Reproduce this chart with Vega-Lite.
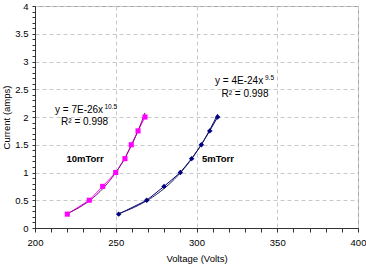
{
  "$schema": "https://vega.github.io/schema/vega-lite/v6.json",
  "width": 323,
  "height": 222,
  "autosize": {"type": "none"},
  "padding": {"left": 35, "top": 6, "right": 8, "bottom": 39},
  "background": "white",
  "config": {
    "font": "Liberation Sans",
    "view": {"stroke": "#a0a0a0", "strokeWidth": 1},
    "axis": {"labelFont": "Liberation Sans", "titleFont": "Liberation Sans", "labelFontSize": 9.5, "titleFontSize": 9.5, "titleFontWeight": "normal", "labelColor": "#000", "titleColor": "#000", "domainColor": "#333", "tickColor": "#333", "gridColor": "#c8c8c8", "gridDash": [4, 3], "labelOverlap": false, "labelFlush": false}
  },
  "datasets": {
    "pts": [
      {"series": "10mTorr", "V": 220, "I": 0.25},
      {"series": "10mTorr", "V": 233.6, "I": 0.5},
      {"series": "10mTorr", "V": 241.9, "I": 0.75},
      {"series": "10mTorr", "V": 250, "I": 1.0},
      {"series": "10mTorr", "V": 255.7, "I": 1.25},
      {"series": "10mTorr", "V": 259.6, "I": 1.5},
      {"series": "10mTorr", "V": 263.8, "I": 1.75},
      {"series": "10mTorr", "V": 268.1, "I": 2.0},
      {"series": "5mTorr", "V": 251.8, "I": 0.25},
      {"series": "5mTorr", "V": 269.2, "I": 0.5},
      {"series": "5mTorr", "V": 279.9, "I": 0.75},
      {"series": "5mTorr", "V": 290, "I": 1.0},
      {"series": "5mTorr", "V": 297, "I": 1.25},
      {"series": "5mTorr", "V": 303, "I": 1.5},
      {"series": "5mTorr", "V": 308.2, "I": 1.75},
      {"series": "5mTorr", "V": 313.1, "I": 2.0}
    ],
    "notes": [
      {"t": "y = 7E-26x", "V": 212.4, "I": 2.12, "kind": "main", "align": "left"},
      {"t": "10.5", "V": 243.0, "I": 2.18, "kind": "sup", "align": "left"},
      {"t": "R² = 0.998", "V": 230.7, "I": 1.91, "kind": "main", "align": "center"},
      {"t": "y = 4E-24x", "V": 311.5, "I": 2.64, "kind": "main", "align": "left"},
      {"t": "9.5", "V": 342.4, "I": 2.71, "kind": "sup", "align": "left"},
      {"t": "R² = 0.998", "V": 330, "I": 2.41, "kind": "main", "align": "center"},
      {"t": "10mTorr", "V": 231.0, "I": 1.24, "kind": "bold", "align": "center"},
      {"t": "5mTorr", "V": 313.3, "I": 1.24, "kind": "bold", "align": "center"}
    ]
  },
  "encoding": {
    "x": {"field": "V", "type": "quantitative", "scale": {"domain": [200, 400], "nice": false, "zero": false},
      "axis": {"values": [200,210,220,230,240,250,260,270,280,290,300,310,320,330,340,350,360,370,380,390,400],
        "labelExpr": "datum.value % 50 === 0 ? datum.label : ''",
        "gridOpacity": {"condition": {"test": "datum.value % 50 === 0", "value": 1}, "value": 0},
        "tickSize": 4, "labelPadding": 5, "title": "Voltage (Volts)", "titlePadding": 7, "grid": true}},
    "y": {"field": "I", "type": "quantitative", "scale": {"domain": [0, 4], "nice": false},
      "axis": {"values": [0,0.1,0.2,0.3,0.4,0.5,0.6,0.7,0.8,0.9,1,1.1,1.2,1.3,1.4,1.5,1.6,1.7,1.8,1.9,2,2.1,2.2,2.3,2.4,2.5,2.6,2.7,2.8,2.9,3,3.1,3.2,3.3,3.4,3.5,3.6,3.7,3.8,3.9,4],
        "format": ".2~f",
        "labelExpr": "abs(datum.value * 2 - round(datum.value * 2)) < 0.001 ? datum.label : ''",
        "gridOpacity": {"condition": {"test": "abs(datum.value * 2 - round(datum.value * 2)) < 0.001", "value": 1}, "value": 0},
        "tickSize": 3, "labelPadding": 4, "title": "Current (amps)", "titlePadding": 3, "grid": true}}
  },
  "layer": [
    {
      "data": {"name": "pts"},
      "mark": {"type": "line", "strokeWidth": 1},
      "encoding": {
        "color": {"field": "series", "type": "nominal", "scale": {"domain": ["10mTorr", "5mTorr"], "range": ["#ff00ff", "#000080"]}, "legend": null},
        "order": {"field": "V", "type": "quantitative"}
      }
    },
    {
      "data": {"name": "pts"},
      "transform": [{"filter": "datum.series === '10mTorr'"}, {"regression": "I", "on": "V", "method": "pow"}],
      "mark": {"type": "line", "strokeWidth": 1, "color": "#800080"},
      "encoding": {}
    },
    {
      "data": {"name": "pts"},
      "transform": [{"filter": "datum.series === '5mTorr'"}, {"regression": "I", "on": "V", "method": "pow"}],
      "mark": {"type": "line", "strokeWidth": 1, "color": "#1a1a60"},
      "encoding": {}
    },
    {
      "data": {"name": "pts"},
      "mark": {"type": "point", "filled": true, "opacity": 1},
      "encoding": {
        "color": {"field": "series", "type": "nominal", "scale": {"domain": ["10mTorr", "5mTorr"], "range": ["#ff00ff", "#000080"]}, "legend": null},
        "shape": {"field": "series", "type": "nominal", "scale": {"domain": ["10mTorr", "5mTorr"], "range": ["square", "diamond"]}, "legend": null},
        "size": {"field": "series", "type": "nominal", "scale": {"domain": ["10mTorr", "5mTorr"], "range": [26, 30]}, "legend": null}
      }
    },
    {
      "data": {"name": "notes"},
      "transform": [{"filter": "datum.kind === 'main' && datum.align === 'left'"}],
      "mark": {"type": "text", "fontSize": 10, "align": "left", "baseline": "middle", "color": "#000"},
      "encoding": {"text": {"field": "t"}}
    },
    {
      "data": {"name": "notes"},
      "transform": [{"filter": "datum.kind === 'main' && datum.align === 'center'"}],
      "mark": {"type": "text", "fontSize": 10, "align": "center", "baseline": "middle", "color": "#000"},
      "encoding": {"text": {"field": "t"}}
    },
    {
      "data": {"name": "notes"},
      "transform": [{"filter": "datum.kind === 'sup'"}],
      "mark": {"type": "text", "fontSize": 6.5, "align": "left", "baseline": "middle", "color": "#000"},
      "encoding": {"text": {"field": "t"}}
    },
    {
      "data": {"name": "notes"},
      "transform": [{"filter": "datum.kind === 'bold'"}],
      "mark": {"type": "text", "fontSize": 9.5, "fontWeight": "bold", "align": "center", "baseline": "middle", "color": "#000"},
      "encoding": {"text": {"field": "t"}}
    }
  ]
}
